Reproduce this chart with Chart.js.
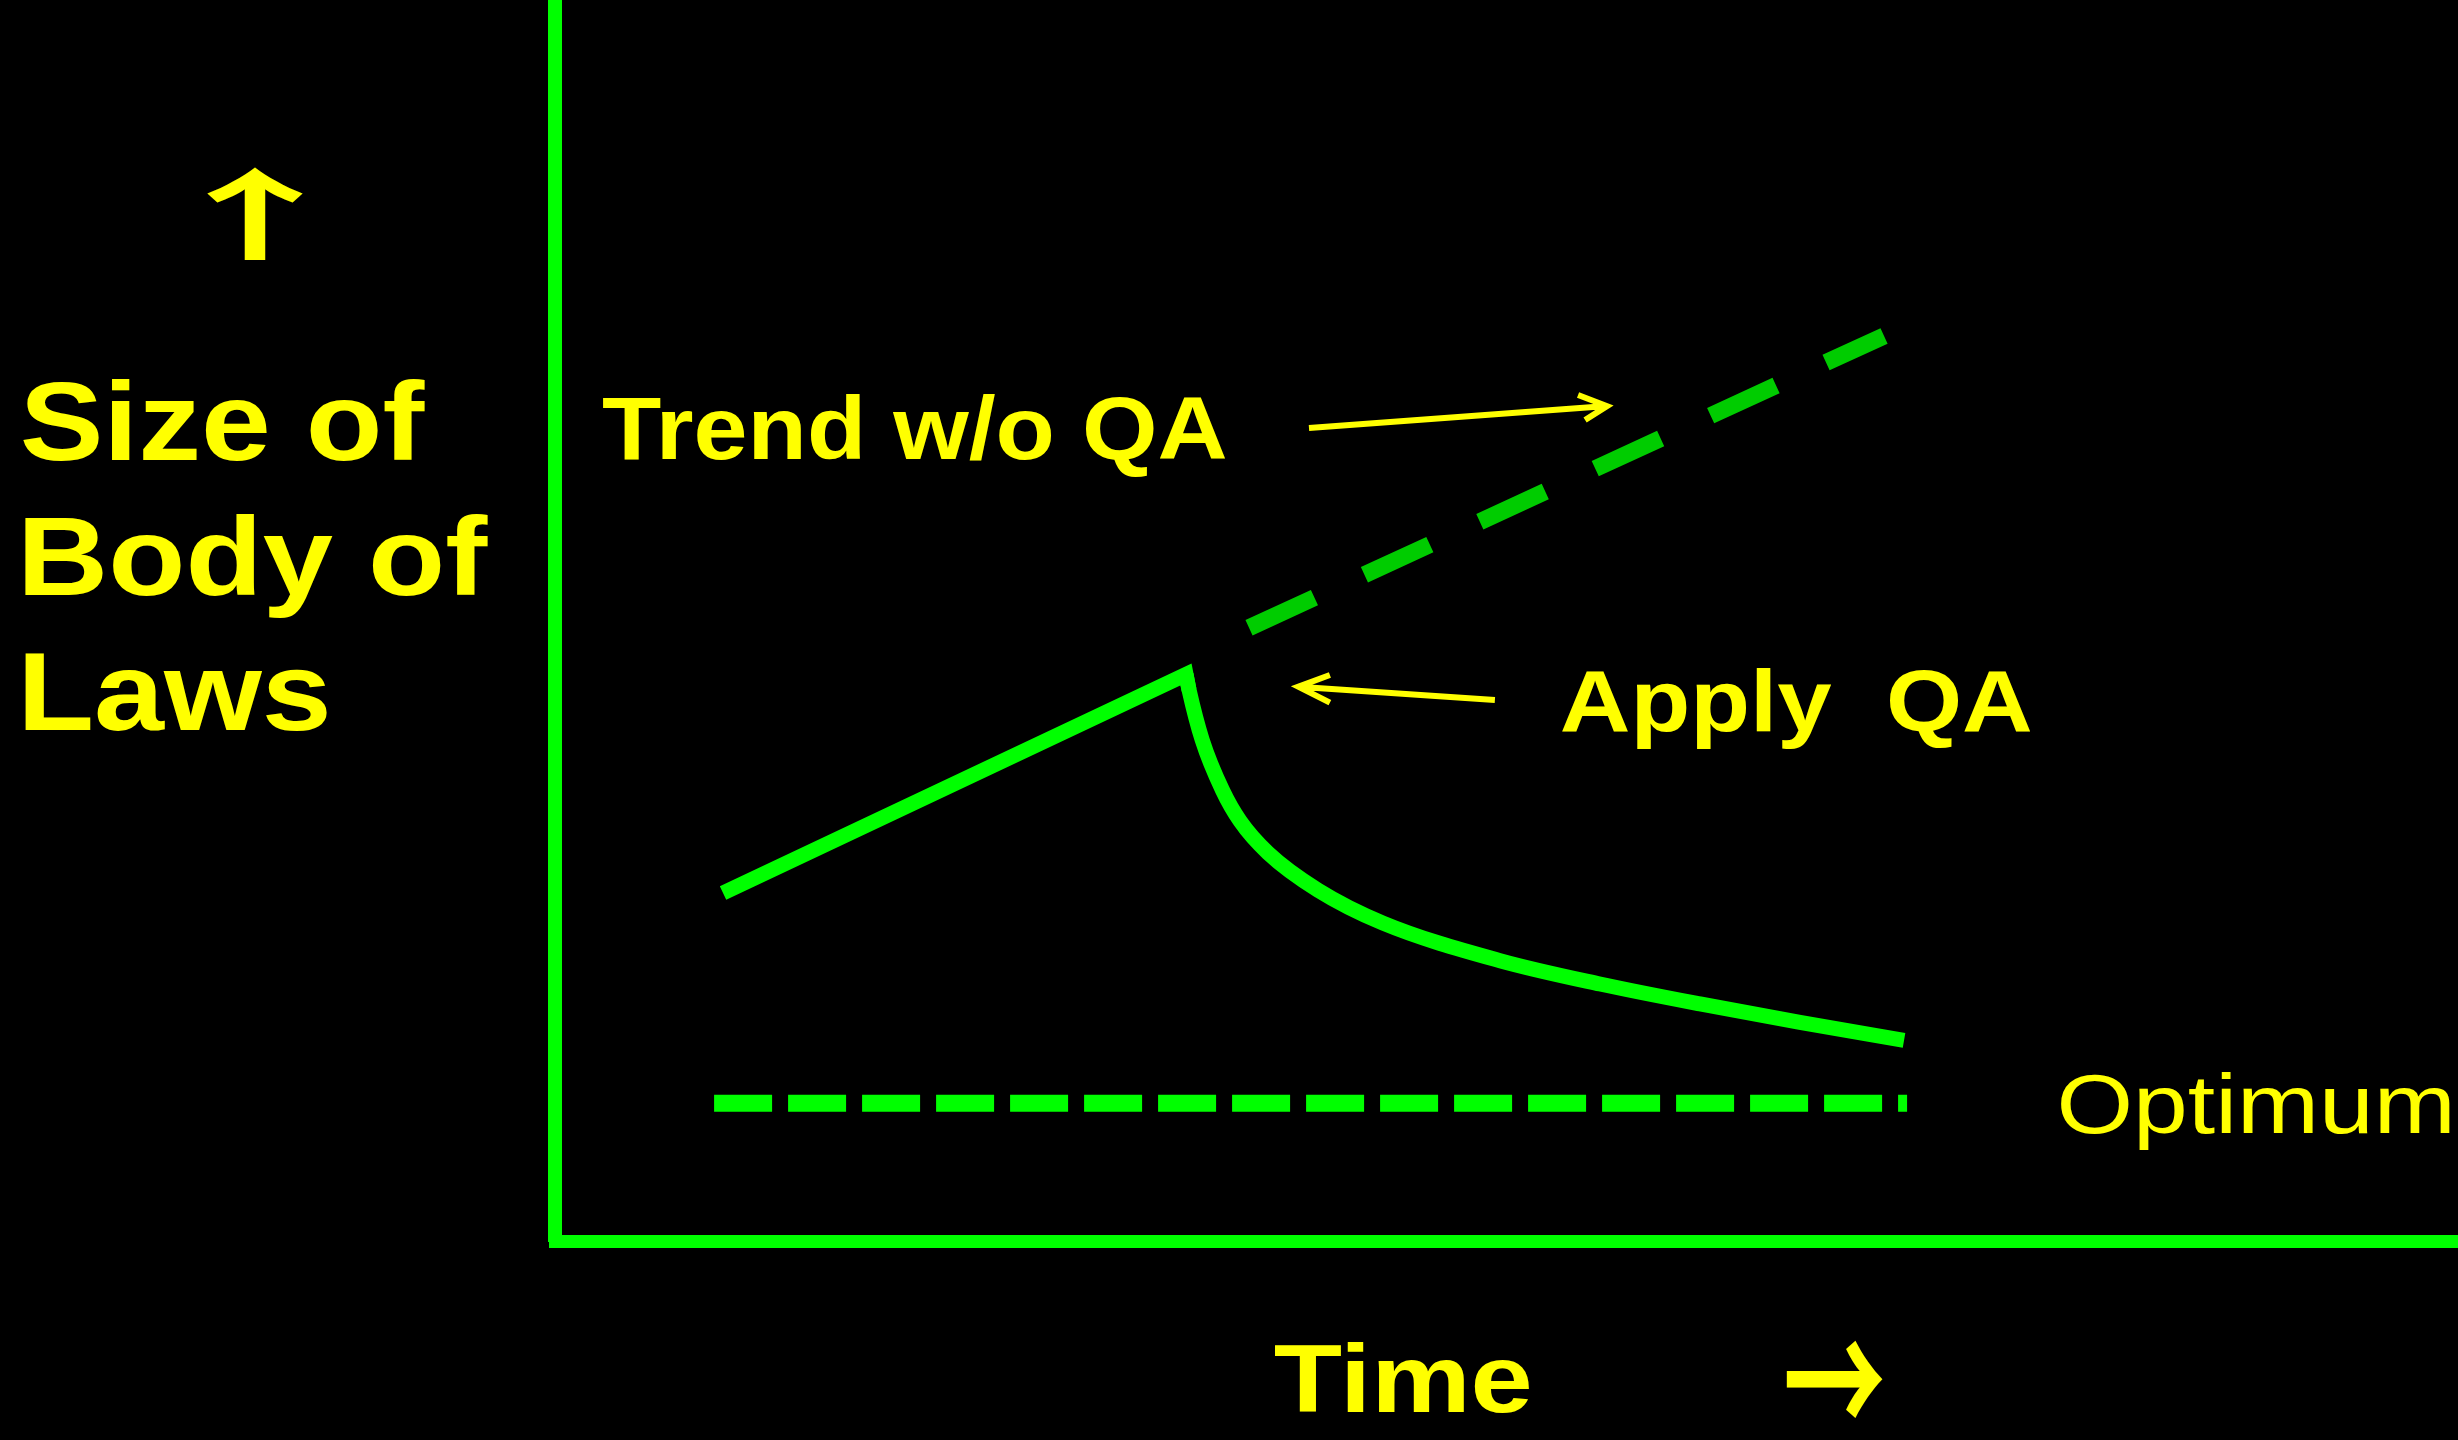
<!DOCTYPE html>
<html><head><meta charset="utf-8">
<script src="https://cdn.jsdelivr.net/npm/chart.js@4.4.1/dist/chart.umd.min.js"></script>
<style>html,body{margin:0;padding:0;background:#000;overflow:hidden}#wrap{width:2458px;height:1440px}</style>
</head><body><div id="wrap"><canvas id="c" width="2458" height="1440"></canvas></div>
<script>
// ---- data (x: time units 0-100, y: size units 0-100) ----
// Growth before QA is applied (straight rise up to the peak, plus first step of the fall)
const riseTime = [8.83, 33.16, 33.32];
const riseSize = [28.04, 45.65, 44.40];
// Decline after QA is applied
const declineTime = [33.16, 33.32, 34.01, 35.07, 36.00, 37.47, 40.09, 43.51, 49.66, 54.91, 60.17, 65.42, 70.89];
const declineSize = [45.65, 44.40, 40.37, 36.34, 33.84, 31.27, 28.28, 25.62, 22.59, 20.71, 19.10, 17.62, 16.16];
// Trend without QA (dashed)
const trendTime = [36.47, 69.84];
const trendSize = [49.42, 72.93];
// Optimum level (dashed)
const optimumTime = [8.36, 71.05];
const optimumSize = [11.09, 11.09];
// Annotation arrows (shaft, gap, arrow head)
const trendArrowX = [39.62, 55.28, 55.28, 53.76, 55.28, 54.13];
const trendArrowY = [65.51, 67.28, null, 68.17, 67.28, 66.16];
const applyArrowX = [49.39, 39.06, 39.06, 40.72, 39.06, 40.72];
const applyArrowY = [43.60, 44.67, null, 45.61, 44.67, 43.38];
// Texts
const yTitleLines = ['Size of', 'Body of', 'Laws'];
const xTitle = 'Time';
const trendLabel = 'Trend w/o QA';
const applyLabel = 'Apply  QA';
const optimumLabel = 'Optimum';
const upArrow = '\u2191';
const rightArrow = '\u2192';

const zip = (xs, ys) => xs.map((x, i) => ({x: x, y: ys[i]}));

function drawFit(ctx, text, font, left, right, baseline) {
  ctx.font = font;
  ctx.textAlign = 'left';
  ctx.textBaseline = 'alphabetic';
  const m = ctx.measureText(text);
  const inkW = m.actualBoundingBoxRight + m.actualBoundingBoxLeft;
  const sx = (right - left) / inkW;
  ctx.save();
  ctx.translate(left + m.actualBoundingBoxLeft * sx, baseline);
  ctx.scale(sx, 1);
  ctx.fillText(text, 0, 0);
  ctx.restore();
}
function drawGlyphBox(ctx, ch, font, left, right, top, bottom) {
  ctx.font = font;
  ctx.textAlign = 'left';
  ctx.textBaseline = 'alphabetic';
  const m = ctx.measureText(ch);
  const h = m.actualBoundingBoxAscent + m.actualBoundingBoxDescent;
  const w = m.actualBoundingBoxLeft + m.actualBoundingBoxRight;
  const sy = (bottom - top) / h, sx = (right - left) / w;
  ctx.save();
  ctx.translate(left + m.actualBoundingBoxLeft * sx, top + m.actualBoundingBoxAscent * sy);
  ctx.scale(sx, sy);
  ctx.fillText(ch, 0, 0);
  ctx.restore();
}

const textPlugin = {
  id: 'slideTexts',
  beforeDraw(chart) {
    const ctx = chart.ctx;
    ctx.save();
    ctx.fillStyle = '#000';
    ctx.fillRect(0, 0, chart.width, chart.height);
    ctx.restore();
  },
  afterDraw(chart) {
    const ctx = chart.ctx;
    ctx.save();
    ctx.fillStyle = '#ffff00';
    const bold = (s) => 'bold ' + s + 'px "Liberation Sans", Arial, sans-serif';
    const reg = (s) => s + 'px "Liberation Sans", Arial, sans-serif';
    const arrowFont = 'bold 100px "Noto Sans CJK JP", "DejaVu Sans", sans-serif';
    drawGlyphBox(ctx, upArrow, arrowFont, 207, 303, 167, 260);
    drawFit(ctx, yTitleLines[0], bold(112), 23, 425, 460);
    drawFit(ctx, yTitleLines[1], bold(112), 25, 488, 595);
    drawFit(ctx, yTitleLines[2], bold(112), 25, 327, 730);
    drawFit(ctx, trendLabel, bold(89), 603, 1225, 459);
    drawFit(ctx, applyLabel, bold(88), 1562, 2031, 731);
    drawFit(ctx, optimumLabel, reg(84), 2060, 2450, 1133);
    drawFit(ctx, xTitle, bold(96), 1275, 1530, 1412);
    drawGlyphBox(ctx, rightArrow, arrowFont, 1787, 1883, 1341, 1420);
    ctx.restore();
  }
};

const lineBase = {pointRadius: 0, borderCapStyle: 'butt', borderJoinStyle: 'miter'};
new Chart(document.getElementById('c'), {
  type: 'line',
  data: {
    datasets: [
      Object.assign({label: 'Before QA', data: zip(riseTime, riseSize), borderColor: '#00ff00', borderWidth: 15, tension: 0}, lineBase),
      Object.assign({label: 'With QA', data: zip(declineTime, declineSize), borderColor: '#00ff00', borderWidth: 15,
       cubicInterpolationMode: 'monotone'}, lineBase),
      Object.assign({label: 'Trend w/o QA', data: zip(trendTime, trendSize), borderColor: '#00cc00', borderWidth: 17,
       borderDash: [72, 55], tension: 0}, lineBase),
      Object.assign({label: 'Optimum', data: zip(optimumTime, optimumSize), borderColor: '#00ff00', borderWidth: 17,
       borderDash: [58, 16], tension: 0}, lineBase),
      Object.assign({label: 'trend arrow', data: zip(trendArrowX, trendArrowY), borderColor: '#ffff00', borderWidth: 6,
       tension: 0, spanGaps: false}, lineBase),
      Object.assign({label: 'apply arrow', data: zip(applyArrowX, applyArrowY), borderColor: '#ffff00', borderWidth: 6,
       tension: 0, spanGaps: false}, lineBase)
    ]
  },
  options: {
    responsive: false,
    devicePixelRatio: 1,
    animation: false,
    layout: {padding: {left: 555, right: 0, top: 0, bottom: 199}},
    plugins: {legend: {display: false}, tooltip: {enabled: false}},
    scales: {
      x: {type: 'linear', min: 0, max: 100, grid: {display: false, drawTicks: false},
          ticks: {display: false}, border: {display: true, color: '#00ff00', width: 13}},
      y: {type: 'linear', min: 0, max: 100, grid: {display: false, drawTicks: false},
          ticks: {display: false}, border: {display: true, color: '#00ff00', width: 14}}
    }
  },
  plugins: [textPlugin]
});
</script></body></html>
